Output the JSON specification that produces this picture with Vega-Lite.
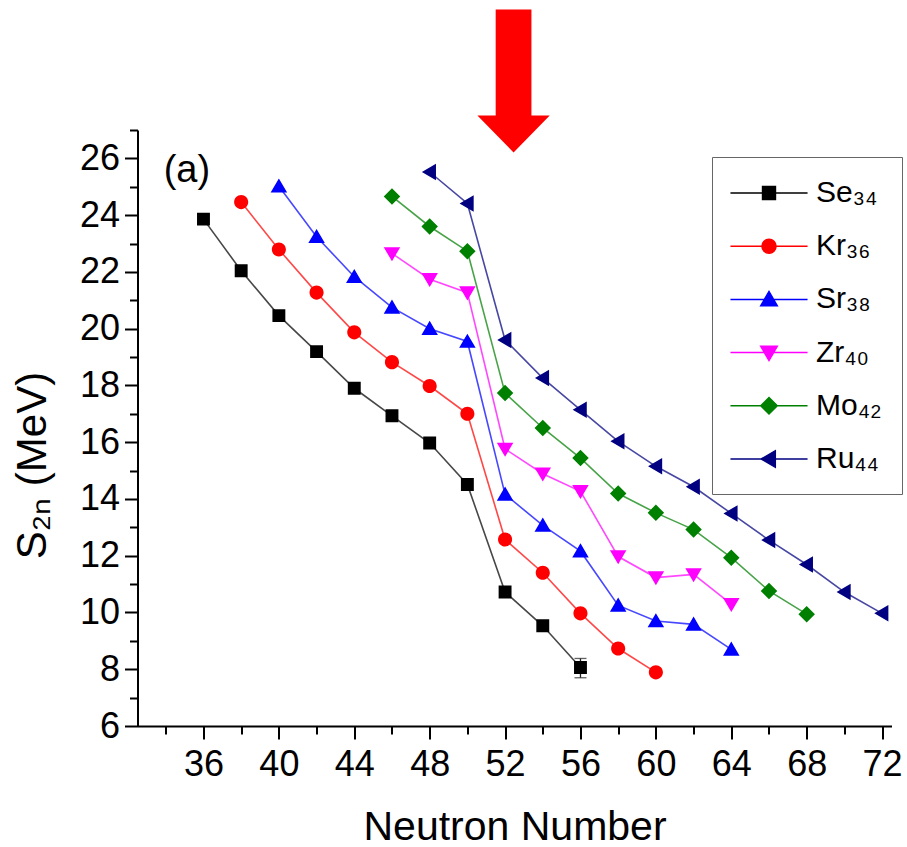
{
  "$schema": "https://vega.github.io/schema/vega-lite/v6.json",
  "width": 754,
  "height": 596,
  "autosize": {"type": "none"},
  "padding": {"left": 137.5, "top": 130, "right": 15.5, "bottom": 121},
  "background": "white",
  "config": {
    "font": "Liberation Sans",
    "view": {"stroke": null},
    "axis": {
      "grid": false,
      "domainColor": "black",
      "domainWidth": 2,
      "tickColor": "black",
      "tickWidth": 2,
      "tickSize": 13,
      "labelFont": "Liberation Sans",
      "labelFontSize": 36,
      "labelColor": "black",
      "titleFont": "Liberation Sans",
      "titleFontSize": 42,
      "titleFontWeight": "normal",
      "titleColor": "black"
    }
  },
  "datasets": {
    "s2n": [
      {"el": "Se₃₄", "N": 36, "S": 23.86}, {"el": "Se₃₄", "N": 38, "S": 22.04}, {"el": "Se₃₄", "N": 40, "S": 20.46},
      {"el": "Se₃₄", "N": 42, "S": 19.19}, {"el": "Se₃₄", "N": 44, "S": 17.90}, {"el": "Se₃₄", "N": 46, "S": 16.93},
      {"el": "Se₃₄", "N": 48, "S": 15.97}, {"el": "Se₃₄", "N": 50, "S": 14.51}, {"el": "Se₃₄", "N": 52, "S": 10.72},
      {"el": "Se₃₄", "N": 54, "S": 9.53}, {"el": "Se₃₄", "N": 56, "S": 8.06},
      {"el": "Kr₃₆", "N": 38, "S": 24.46}, {"el": "Kr₃₆", "N": 40, "S": 22.79}, {"el": "Kr₃₆", "N": 42, "S": 21.27},
      {"el": "Kr₃₆", "N": 44, "S": 19.87}, {"el": "Kr₃₆", "N": 46, "S": 18.82}, {"el": "Kr₃₆", "N": 48, "S": 17.98},
      {"el": "Kr₃₆", "N": 50, "S": 17.00}, {"el": "Kr₃₆", "N": 52, "S": 12.57}, {"el": "Kr₃₆", "N": 54, "S": 11.40},
      {"el": "Kr₃₆", "N": 56, "S": 9.97}, {"el": "Kr₃₆", "N": 58, "S": 8.73}, {"el": "Kr₃₆", "N": 60, "S": 7.89},
      {"el": "Sr₃₈", "N": 40, "S": 25.02}, {"el": "Sr₃₈", "N": 42, "S": 23.24}, {"el": "Sr₃₈", "N": 44, "S": 21.83},
      {"el": "Sr₃₈", "N": 46, "S": 20.75}, {"el": "Sr₃₈", "N": 48, "S": 20.00}, {"el": "Sr₃₈", "N": 50, "S": 19.55},
      {"el": "Sr₃₈", "N": 52, "S": 14.16}, {"el": "Sr₃₈", "N": 54, "S": 13.07}, {"el": "Sr₃₈", "N": 56, "S": 12.16},
      {"el": "Sr₃₈", "N": 58, "S": 10.25}, {"el": "Sr₃₈", "N": 60, "S": 9.70}, {"el": "Sr₃₈", "N": 62, "S": 9.58},
      {"el": "Sr₃₈", "N": 64, "S": 8.70},
      {"el": "Zr₄₀", "N": 46, "S": 22.65}, {"el": "Zr₄₀", "N": 48, "S": 21.74}, {"el": "Zr₄₀", "N": 50, "S": 21.27},
      {"el": "Zr₄₀", "N": 52, "S": 15.76}, {"el": "Zr₄₀", "N": 54, "S": 14.89}, {"el": "Zr₄₀", "N": 56, "S": 14.27},
      {"el": "Zr₄₀", "N": 58, "S": 11.97}, {"el": "Zr₄₀", "N": 60, "S": 11.23}, {"el": "Zr₄₀", "N": 62, "S": 11.34},
      {"el": "Zr₄₀", "N": 64, "S": 10.29},
      {"el": "Mo₄₂", "N": 46, "S": 24.66}, {"el": "Mo₄₂", "N": 48, "S": 23.60}, {"el": "Mo₄₂", "N": 50, "S": 22.73},
      {"el": "Mo₄₂", "N": 52, "S": 17.73}, {"el": "Mo₄₂", "N": 54, "S": 16.50}, {"el": "Mo₄₂", "N": 56, "S": 15.44},
      {"el": "Mo₄₂", "N": 58, "S": 14.19}, {"el": "Mo₄₂", "N": 60, "S": 13.51}, {"el": "Mo₄₂", "N": 62, "S": 12.92},
      {"el": "Mo₄₂", "N": 64, "S": 11.93}, {"el": "Mo₄₂", "N": 66, "S": 10.76}, {"el": "Mo₄₂", "N": 68, "S": 9.94},
      {"el": "Ru₄₄", "N": 48, "S": 25.52}, {"el": "Ru₄₄", "N": 50, "S": 24.41}, {"el": "Ru₄₄", "N": 52, "S": 19.60},
      {"el": "Ru₄₄", "N": 54, "S": 18.26}, {"el": "Ru₄₄", "N": 56, "S": 17.14}, {"el": "Ru₄₄", "N": 58, "S": 16.03},
      {"el": "Ru₄₄", "N": 60, "S": 15.15}, {"el": "Ru₄₄", "N": 62, "S": 14.43}, {"el": "Ru₄₄", "N": 64, "S": 13.49},
      {"el": "Ru₄₄", "N": 66, "S": 12.55}, {"el": "Ru₄₄", "N": 68, "S": 11.69}, {"el": "Ru₄₄", "N": 70, "S": 10.72},
      {"el": "Ru₄₄", "N": 72, "S": 9.97}
    ],
    "se56err": [{"N": 56, "lo": 7.70, "hi": 8.38}],
    "panel": [{"N": 35.12, "S": 25.54, "t": "(a)"}],
    "shellClosure": [{"N": 52.45, "S": 28.73}]
  },
  "layer": [
    {
      "data": {"name": "s2n"},
      "mark": {"type": "line", "strokeWidth": 1.6, "opacity": 0.72},
      "encoding": {
        "x": {
          "field": "N", "type": "quantitative",
          "scale": {"domain": [32.5, 72.5], "nice": false, "zero": false},
          "axis": {
            "title": "Neutron Number",
            "titleFontSize": 41,
            "values": [34, 36, 38, 40, 42, 44, 46, 48, 50, 52, 54, 56, 58, 60, 62, 64, 66, 68, 70, 72],
            "tickCount": 100,
            "format": "d",
            "labelExpr": "datum.value % 4 == 0 ? datum.label : ''",
            "tickDash": {"condition": {"test": "datum.value % 4 != 0", "value": [8, 40]}, "value": [40, 0]},
            "labelPadding": 8,
            "labelOverlap": false,
            "titlePadding": 25
          }
        },
        "y": {
          "field": "S", "type": "quantitative",
          "scale": {"domain": [6, 27], "nice": false, "zero": false},
          "axis": {
            "title": "S₂ₙ (MeV)",
            "values": [6, 7, 8, 9, 10, 11, 12, 13, 14, 15, 16, 17, 18, 19, 20, 21, 22, 23, 24, 25, 26, 27],
            "tickCount": 100,
            "format": "d",
            "labelExpr": "datum.value % 2 == 0 ? datum.label : ''",
            "tickDash": {"condition": {"test": "datum.value % 2 != 0", "value": [8, 40]}, "value": [40, 0]},
            "labelPadding": 5,
            "labelOverlap": false,
            "titlePadding": 25,
            "titleY": 335
          }
        },
        "color": {
          "field": "el", "type": "nominal", "legend": null,
          "scale": {
            "range": ["#ff0000", "#008000", "#000080", "#000000", "#0000ff", "#ff00ff"]
          }
        }
      }
    },
    {
      "data": {"name": "se56err"},
      "mark": {"type": "rule", "color": "#222222", "strokeWidth": 1.3},
      "encoding": {
        "x": {"field": "N", "type": "quantitative"},
        "y": {"field": "lo", "type": "quantitative"},
        "y2": {"field": "hi"}
      }
    },
    {
      "data": {"name": "se56err"},
      "mark": {"type": "tick", "orient": "horizontal", "color": "#222222", "size": 12, "thickness": 1.3},
      "encoding": {
        "x": {"field": "N", "type": "quantitative"},
        "y": {"field": "lo", "type": "quantitative"}
      }
    },
    {
      "data": {"name": "se56err"},
      "mark": {"type": "tick", "orient": "horizontal", "color": "#222222", "size": 12, "thickness": 1.3},
      "encoding": {
        "x": {"field": "N", "type": "quantitative"},
        "y": {"field": "hi", "type": "quantitative"}
      }
    },
    {
      "data": {"name": "s2n"},
      "mark": {"type": "point", "filled": true, "opacity": 1, "size": 900, "strokeWidth": 0},
      "encoding": {
        "x": {"field": "N", "type": "quantitative"},
        "y": {"field": "S", "type": "quantitative"},
        "fill": {
          "field": "el", "type": "nominal", "title": null,
          "scale": {
            "domain": ["Se₃₄", "Kr₃₆", "Sr₃₈", "Zr₄₀", "Mo₄₂", "Ru₄₄"],
            "range": ["#000000", "#ff0000", "#0000ff", "#ff00ff", "#008000", "#000080"]
          },
          "legend": {
            "orient": "none", "legendX": 574.5, "legendY": 27,
            "symbolSize": 900, "symbolOffset": 21, "symbolStrokeWidth": 1.5,
            "labelOffset": 31, "padding": 20, "rowPadding": 22.2,
            "labelFont": "Liberation Sans", "labelFontSize": 30, "labelColor": "black", "labelLimit": 300,
            "strokeColor": "#666666", "fillColor": "white",
            "encode": {
              "symbols": {"strokeWidth": {"value": 1.5}, "opacity": {"value": 1}, "strokeOpacity": {"value": 0.75}},
              "legend": {"strokeWidth": {"value": 1.5}}
            }
          }
        },
        "stroke": {
          "field": "el", "type": "nominal", "title": null,
          "scale": {
            "domain": ["Se₃₄", "Kr₃₆", "Sr₃₈", "Zr₄₀", "Mo₄₂", "Ru₄₄"],
            "range": ["#000000", "#ff0000", "#0000ff", "#ff00ff", "#008000", "#000080"]
          },
          "legend": {
            "orient": "none", "legendX": 574.5, "legendY": 27,
            "symbolSize": 900, "symbolOffset": 21, "symbolStrokeWidth": 1.5,
            "labelOffset": 31, "padding": 20, "rowPadding": 22.2,
            "labelFont": "Liberation Sans", "labelFontSize": 30, "labelColor": "black", "labelLimit": 300,
            "strokeColor": "#666666", "fillColor": "white",
            "encode": {
              "symbols": {"strokeWidth": {"value": 1.5}, "opacity": {"value": 1}, "strokeOpacity": {"value": 0.75}},
              "legend": {"strokeWidth": {"value": 1.5}}
            }
          }
        },
        "shape": {
          "field": "el", "type": "nominal", "title": null,
          "scale": {
            "domain": ["Se₃₄", "Kr₃₆", "Sr₃₈", "Zr₄₀", "Mo₄₂", "Ru₄₄"],
            "range": [
              "M-2.57,0H2.57M-0.43,-0.43H0.43V0.43H-0.43Z",
              "M-2.57,0H2.57M0.47,0A0.47,0.47,0,1,1,-0.47,0A0.47,0.47,0,1,1,0.47,0Z",
              "M-2.57,0H2.57M-0.55,0.42L0.55,0.42L0,-0.52Z",
              "M-2.57,0H2.57M-0.55,-0.42L0.55,-0.42L0,0.52Z",
              "M-2.57,0H2.57M0,-0.55L0.55,0L0,0.55L-0.55,0Z",
              "M-2.57,0H2.57M-0.52,0L0.42,-0.55L0.42,0.55Z"
            ]
          },
          "legend": {
            "orient": "none", "legendX": 574.5, "legendY": 27,
            "symbolSize": 900, "symbolOffset": 21, "symbolStrokeWidth": 1.5,
            "labelOffset": 31, "padding": 20, "rowPadding": 22.2,
            "labelFont": "Liberation Sans", "labelFontSize": 30, "labelColor": "black", "labelLimit": 300,
            "strokeColor": "#666666", "fillColor": "white",
            "encode": {
              "symbols": {"strokeWidth": {"value": 1.5}, "opacity": {"value": 1}, "strokeOpacity": {"value": 0.75}},
              "legend": {"strokeWidth": {"value": 1.5}}
            }
          }
        }
      }
    },
    {
      "data": {"name": "panel"},
      "mark": {"type": "text", "fontSize": 38, "font": "Liberation Sans", "color": "black", "align": "center", "baseline": "middle"},
      "encoding": {
        "x": {"field": "N", "type": "quantitative"},
        "y": {"field": "S", "type": "quantitative"},
        "text": {"field": "t"}
      }
    },
    {
      "data": {"name": "shellClosure"},
      "mark": {
        "type": "point",
        "filled": true,
        "opacity": 1,
        "color": "#ff0000",
        "strokeWidth": 0,
        "size": 20449,
        "shape": "M-0.25,-1L0.25,-1L0.25,0.485L0.506,0.485L0,1L-0.506,0.485L-0.25,0.485Z"
      },
      "encoding": {
        "x": {"field": "N", "type": "quantitative"},
        "y": {"field": "S", "type": "quantitative"}
      }
    }
  ]
}
